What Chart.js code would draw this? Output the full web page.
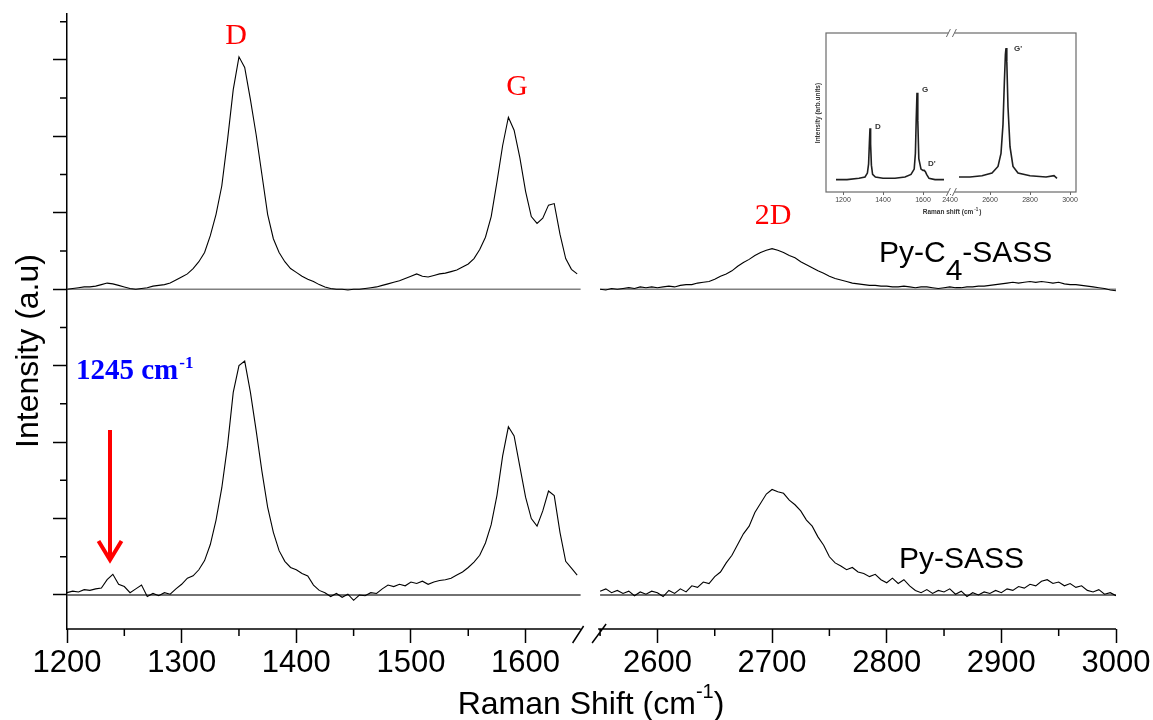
<!DOCTYPE html>
<html>
<head>
<meta charset="utf-8">
<script src="https://cdn.jsdelivr.net/npm/chart.js@4.4.0/dist/chart.umd.min.js"></script>
<style>
  html, body { margin: 0; padding: 0; background: #fff; }
  #wrap { position: relative; width: 1153px; height: 720px; }
  #mainChart { position: absolute; left: 0; top: 0; }
  #insetChart { position: absolute; left: 800px; top: 25px; }
</style>
</head>
<body>
<div id="wrap">
  <canvas id="mainChart" width="1153" height="720"></canvas>
  <canvas id="insetChart" width="330" height="200"></canvas>
</div>
<script>
// Raman shift grid (cm-1), left and right of the axis break
const shiftLeft = [1200,1205,1210,1215,1220,1225,1230,1235,1240,1245,1250,1255,1260,1265,1270,1275,1280,1285,1290,1295,
  1300,1305,1310,1315,1320,1325,1330,1335,1340,1345,1350,1355,1360,1365,1370,1375,1380,1385,1390,1395,
  1400,1405,1410,1415,1420,1425,1430,1435,1440,1445,1450,1455,1460,1465,1470,1475,1480,1485,1490,1495,
  1500,1505,1510,1515,1520,1525,1530,1535,1540,1545,1550,1555,1560,1565,1570,1575,1580,1585,1590,1595,
  1600,1605,1610,1615,1620,1625,1630,1635,1640,1645];
const shiftRight = [2550,2555,2560,2565,2570,2575,2580,2585,2590,2595,2600,2605,2610,2615,2620,2625,2630,2635,2640,2645,
  2650,2655,2660,2665,2670,2675,2680,2685,2690,2695,2700,2705,2710,2715,2720,2725,2730,2735,2740,2745,
  2750,2755,2760,2765,2770,2775,2780,2785,2790,2795,2800,2805,2810,2815,2820,2825,2830,2835,2840,2845,
  2850,2855,2860,2865,2870,2875,2880,2885,2890,2895,2900,2905,2910,2915,2920,2925,2930,2935,2940,2945,
  2950,2955,2960,2965,2970,2975,2980,2985,2990,2995,3000];

// Py-C4-SASS, offset by +4
const pyc4Left = [4.00,4.01,4.02,4.03,4.03,4.04,4.06,4.08,4.07,4.05,4.03,4.01,4.00,4.01,4.02,4.04,4.05,4.06,4.08,4.12,
  4.16,4.20,4.27,4.36,4.48,4.70,4.98,5.35,5.95,6.61,7.04,6.90,6.48,6.02,5.50,4.98,4.66,4.48,4.36,4.27,
  4.22,4.17,4.13,4.10,4.06,4.03,4.01,4.00,4.00,3.99,4.00,4.00,4.01,4.02,4.03,4.05,4.07,4.09,4.11,4.14,
  4.17,4.20,4.17,4.16,4.18,4.20,4.21,4.23,4.25,4.29,4.33,4.40,4.52,4.68,4.95,5.40,5.88,6.25,6.08,5.72,
  5.28,4.95,4.86,4.93,5.10,5.12,4.72,4.40,4.26,4.20];
const pyc4Right = [4.00,3.99,4.01,4.00,4.01,4.02,4.01,4.03,4.02,4.03,4.02,4.03,4.04,4.03,4.05,4.06,4.06,4.08,4.09,4.10,
  4.13,4.17,4.20,4.24,4.30,4.35,4.39,4.44,4.48,4.51,4.53,4.51,4.48,4.44,4.41,4.36,4.32,4.28,4.24,4.21,
  4.17,4.14,4.12,4.10,4.08,4.07,4.06,4.05,4.05,4.04,4.04,4.03,4.03,4.04,4.03,4.02,4.03,4.03,4.02,4.01,
  4.02,4.03,4.02,4.02,4.03,4.03,4.04,4.04,4.05,4.06,4.07,4.08,4.09,4.08,4.09,4.10,4.09,4.10,4.09,4.08,
  4.09,4.07,4.06,4.06,4.05,4.04,4.03,4.02,4.01,3.99,3.98];

// Py-SASS
const pysassLeft = [0.03,0.05,0.04,0.07,0.06,0.08,0.09,0.20,0.27,0.14,0.11,0.03,0.08,0.13,-0.02,0.02,-0.01,0.03,0.01,0.08,
  0.14,0.22,0.25,0.33,0.45,0.66,0.98,1.40,1.95,2.65,3.00,3.06,2.65,2.15,1.62,1.15,0.82,0.58,0.44,0.36,
  0.33,0.28,0.25,0.13,0.06,0.03,-0.02,0.02,-0.03,0.01,-0.07,0.00,-0.01,0.03,0.02,0.08,0.13,0.11,0.14,0.12,
  0.17,0.15,0.18,0.14,0.17,0.19,0.20,0.22,0.26,0.30,0.36,0.43,0.52,0.68,0.92,1.30,1.82,2.20,2.08,1.68,
  1.28,1.00,0.90,1.10,1.36,1.30,0.82,0.44,0.35,0.26];
const pysassRight = [0.05,0.08,0.03,0.06,0.02,0.05,-0.01,0.04,0.01,0.05,0.03,-0.02,0.06,0.02,0.08,0.04,0.12,0.10,0.17,0.15,
  0.24,0.30,0.42,0.52,0.66,0.80,0.90,1.08,1.20,1.32,1.38,1.35,1.33,1.24,1.18,1.10,0.98,0.90,0.76,0.65,
  0.50,0.42,0.38,0.33,0.36,0.30,0.28,0.24,0.27,0.20,0.16,0.22,0.15,0.20,0.12,0.06,0.03,0.07,0.02,0.06,
  0.04,0.08,0.01,0.05,-0.02,0.03,0.00,0.04,0.02,0.06,0.03,0.08,0.06,0.11,0.09,0.14,0.12,0.18,0.20,0.15,
  0.17,0.12,0.15,0.10,0.12,0.06,0.04,0.07,0.01,0.03,-0.01];

const baseLevels = [4, 0];
const segmentEnds = [1200, 1648, 2550, 3000];
const tickMajor = [1200, 1300, 1400, 1500, 1600, 2600, 2700, 2800, 2900, 3000];
const tickMinor = [1250, 1350, 1450, 1550, 2550, 2650, 2750, 2850, 2950];
const yMajor = [0, 1, 2, 3, 4, 5, 6, 7];
const yMinor = [0.5, 1.5, 2.5, 3.5, 4.5, 5.5, 6.5, 7.5];

// inset (reference spectrum of graphene)
const insetShiftLeft = [1165,1220,1280,1310,1322,1328,1332,1335,1338,1342,1348,1362,1400,1460,1510,1540,1556,1562,1566,1570,
  1574,1579,1590,1600,1606,1612,1618,1630,1660,1705];
const insetValLeft = [0.00,0.00,0.01,0.02,0.05,0.12,0.28,0.39,0.27,0.11,0.04,0.02,0.01,0.01,0.02,0.04,0.08,0.20,0.45,0.66,
  0.45,0.16,0.08,0.07,0.07,0.06,0.04,0.01,0.00,0.00];
const insetShiftRight = [2445,2500,2560,2610,2640,2655,2665,2672,2677,2680,2684,2690,2700,2715,2740,2800,2880,2920,2935];
const insetValRight = [0.02,0.02,0.03,0.05,0.10,0.20,0.42,0.75,0.95,1.00,0.90,0.55,0.25,0.10,0.05,0.03,0.02,0.03,0.01];
const insetTicks = [1200, 1400, 1600, 2400, 2600, 2800, 3000];

const SANS = '"Liberation Sans", Arial, sans-serif';
const SERIF = '"Liberation Serif", "Times New Roman", serif';

// broken axis: right part is slid left so it follows the left part
const BREAK_SHIFT = 885;
const toAxis = r => r > 2000 ? r - BREAK_SHIFT : r;
const fromAxis = v => v > 1656 ? v + BREAK_SHIFT : v;

function spectrum(xl, yl, xr, yr, conv, gapAt) {
  const pts = xl.map((x, i) => ({ x: conv(x), y: yl[i] }));
  pts.push({ x: gapAt, y: null });
  xr.forEach((x, i) => pts.push({ x: conv(x), y: yr[i] }));
  return pts;
}
function baseLine(level) {
  return spectrum(segmentEnds.slice(0, 2), [level, level], segmentEnds.slice(2), [level, level], toAxis, 1656);
}

// draws things Chart.js has no option for: axis break, minor ticks, labels
const decor = {
  id: 'decor',
  afterDraw(chart) {
    const { ctx, chartArea } = chart;
    const xs = chart.scales.x, ys = chart.scales.y;
    const axisY = chartArea.bottom;
    ctx.save();
    ctx.strokeStyle = '#000';
    ctx.lineWidth = 1.5;
    const xEndL = xs.getPixelForValue(toAxis(1648));
    const xStartR = xs.getPixelForValue(toAxis(2550));
    ctx.beginPath();
    ctx.moveTo(chartArea.left, axisY); ctx.lineTo(xEndL, axisY);
    ctx.moveTo(xStartR - 2, axisY); ctx.lineTo(chartArea.right, axisY);
    // break marks
    ctx.moveTo(xEndL - 8, axisY + 14); ctx.lineTo(xEndL + 3, axisY - 3);
    ctx.moveTo(xStartR - 8, axisY + 14); ctx.lineTo(xStartR + 6, axisY - 5);
    // minor ticks
    tickMinor.forEach(v => {
      const px = xs.getPixelForValue(toAxis(v));
      ctx.moveTo(px, axisY); ctx.lineTo(px, axisY + 7);
    });
    yMinor.forEach(v => {
      const py = ys.getPixelForValue(v);
      ctx.moveTo(chartArea.left - 7, py); ctx.lineTo(chartArea.left, py);
    });
    ctx.stroke();

    // peak labels
    ctx.fillStyle = '#ff0000';
    ctx.font = '30px ' + SERIF;
    ctx.textAlign = 'center';
    ctx.textBaseline = 'alphabetic';
    ctx.fillText('D', 236, 44);
    ctx.fillText('G', 517, 95);
    ctx.fillText('2D', 773, 224);

    // sample names
    ctx.fillStyle = '#000';
    ctx.textAlign = 'left';
    ctx.font = '30px ' + SANS;
    let x0 = 879;
    ctx.fillText('Py-C', x0, 262);
    x0 += ctx.measureText('Py-C').width;
    ctx.fillText('4', x0, 280);
    x0 += ctx.measureText('4').width;
    ctx.fillText('-SASS', x0, 262);
    ctx.fillText('Py-SASS', 899, 568);

    // 1245 cm-1 note and arrow
    ctx.fillStyle = '#0000ff';
    ctx.font = 'bold 29px ' + SERIF;
    ctx.fillText('1245 cm', 76, 379);
    const w1 = ctx.measureText('1245 cm').width;
    ctx.font = 'bold 17px ' + SERIF;
    ctx.fillText('-1', 76 + w1 + 1, 368);

    ctx.strokeStyle = '#ff0000';
    ctx.lineWidth = 4;
    ctx.beginPath();
    ctx.moveTo(110, 430); ctx.lineTo(110, 558);
    ctx.moveTo(98.5, 541); ctx.lineTo(110, 560); ctx.lineTo(121.5, 541);
    ctx.stroke();

    // axis titles
    ctx.fillStyle = '#000';
    const t1 = 'Raman Shift (cm', t2 = ')';
    ctx.font = '32px ' + SANS;
    const wa = ctx.measureText(t1).width, wc = ctx.measureText(t2).width;
    ctx.font = '20px ' + SANS;
    const wb = ctx.measureText('-1').width;
    let tx = 591 - (wa + wb + wc) / 2;
    ctx.font = '32px ' + SANS;
    ctx.fillText(t1, tx, 714);
    ctx.font = '20px ' + SANS;
    ctx.fillText('-1', tx + wa, 698);
    ctx.font = '32px ' + SANS;
    ctx.fillText(t2, tx + wa + wb, 714);

    ctx.translate(38, 351);
    ctx.rotate(-Math.PI / 2);
    ctx.textAlign = 'center';
    ctx.fillText('Intensity (a.u)', 0, 0);
    ctx.restore();
  }
};

new Chart(document.getElementById('mainChart'), {
  type: 'line',
  data: {
    datasets: [
      { data: spectrum(shiftLeft, pyc4Left, shiftRight, pyc4Right, toAxis, 1656), borderColor: '#000', borderWidth: 1.1 },
      { data: spectrum(shiftLeft, pysassLeft, shiftRight, pysassRight, toAxis, 1656), borderColor: '#000', borderWidth: 1.1 },
      { data: baseLine(baseLevels[0]), borderColor: '#808080', borderWidth: 1.6 },
      { data: baseLine(baseLevels[1]), borderColor: '#444', borderWidth: 1.3 }
    ]
  },
  options: {
    responsive: false,
    animation: false,
    spanGaps: false,
    layout: { padding: { left: 0, right: 37, top: 14, bottom: 0 } },
    elements: { point: { radius: 0 }, line: { tension: 0 } },
    plugins: { legend: { display: false }, tooltip: { enabled: false } },
    scales: {
      x: {
        type: 'linear',
        min: 1200,
        max: 3000 - BREAK_SHIFT,
        afterBuildTicks: s => { s.ticks = tickMajor.map(v => ({ value: toAxis(v) })); },
        afterFit: s => { s.height = 91; s.paddingLeft = 0; s.paddingRight = 0; },
        border: { display: false },
        grid: { drawOnChartArea: false, drawTicks: true, tickLength: 14, tickWidth: 1.5, tickColor: '#000' },
        ticks: {
          autoSkip: false, maxRotation: 0, minRotation: 0, padding: 2, color: '#000',
          font: { family: SANS, size: 31 },
          callback: v => String(fromAxis(v))
        }
      },
      y: {
        min: -0.445,
        max: 7.6,
        afterBuildTicks: s => { s.ticks = yMajor.map(v => ({ value: v })); },
        afterFit: s => { s.width = 67; s.paddingTop = 0; s.paddingBottom = 0; },
        border: { display: true, color: '#000', width: 1.5 },
        grid: { drawOnChartArea: false, drawTicks: true, tickLength: 14, tickWidth: 1.5, tickColor: '#000' },
        ticks: { callback: () => '' }
      }
    }
  },
  plugins: [decor]
});

// ---- inset ----
const INSET_SHIFT = 665;
const INSET_GAP = 1742;
const insetAxis = r => r > 2000 ? r - INSET_SHIFT : r;
const insetFrom = v => v > 1720 ? v + INSET_SHIFT : v;

const insetDecor = {
  id: 'insetDecor',
  afterDraw(chart) {
    const { ctx, chartArea: a } = chart;
    const xs = chart.scales.x;
    const bx = xs.getPixelForValue(INSET_GAP);
    ctx.save();
    ctx.strokeStyle = '#6a6a6a';
    ctx.lineWidth = 1.2;
    ctx.strokeRect(a.left, a.top, a.right - a.left, a.bottom - a.top);
    ctx.fillStyle = '#fff';
    ctx.fillRect(bx - 3, a.top - 2, 6, 4);
    ctx.fillRect(bx - 3, a.bottom - 2, 6, 4);
    ctx.lineWidth = 1;
    ctx.beginPath();
    [a.top, a.bottom].forEach(yy => {
      ctx.moveTo(bx - 5, yy + 4); ctx.lineTo(bx - 1, yy - 4);
      ctx.moveTo(bx + 1, yy + 4); ctx.lineTo(bx + 5, yy - 4);
    });
    ctx.stroke();

    ctx.fillStyle = '#333';
    ctx.font = 'bold 8px ' + SANS;
    ctx.fillText('D', 75, 104);
    ctx.fillText('G', 122, 67);
    ctx.fillText("D'", 128, 141);
    ctx.fillText("G'", 214, 26);

    ctx.font = 'bold 6.5px ' + SANS;
    ctx.textAlign = 'center';
    ctx.fillText('Raman shift (cm', 148, 189);
    const w = ctx.measureText('Raman shift (cm').width;
    ctx.font = 'bold 4.5px ' + SANS;
    ctx.fillText('-1', 148 + w / 2 + 3, 186);
    ctx.font = 'bold 6.5px ' + SANS;
    ctx.fillText(')', 148 + w / 2 + 7, 189);

    ctx.translate(20, 88);
    ctx.rotate(-Math.PI / 2);
    ctx.fillText('Intensity (arb.units)', 0, 0);
    ctx.restore();
  }
};

new Chart(document.getElementById('insetChart'), {
  type: 'line',
  data: {
    datasets: [{
      data: spectrum(insetShiftLeft, insetValLeft, insetShiftRight, insetValRight, insetAxis, INSET_GAP),
      borderColor: '#1e1e1e', borderWidth: 1.6
    }]
  },
  options: {
    responsive: false,
    animation: false,
    spanGaps: false,
    layout: { padding: { left: 0, right: 54, top: 8, bottom: 0 } },
    elements: { point: { radius: 0 }, line: { tension: 0 } },
    plugins: { legend: { display: false }, tooltip: { enabled: false } },
    scales: {
      x: {
        type: 'linear',
        min: 1115,
        max: 2365,
        afterBuildTicks: s => { s.ticks = insetTicks.map(v => ({ value: insetAxis(v) })); },
        afterFit: s => { s.height = 33; s.paddingLeft = 0; s.paddingRight = 0; },
        border: { display: false },
        grid: { drawOnChartArea: false, tickLength: 3, tickColor: '#666' },
        ticks: {
          autoSkip: false, maxRotation: 0, padding: 1, color: '#444',
          font: { family: SANS, size: 7 },
          callback: v => String(insetFrom(v))
        }
      },
      y: {
        min: -0.094,
        max: 1.114,
        afterFit: s => { s.width = 26; s.paddingTop = 0; s.paddingBottom = 0; },
        border: { display: false },
        grid: { display: false },
        ticks: { display: false }
      }
    }
  },
  plugins: [insetDecor]
});
</script>
</body>
</html>
